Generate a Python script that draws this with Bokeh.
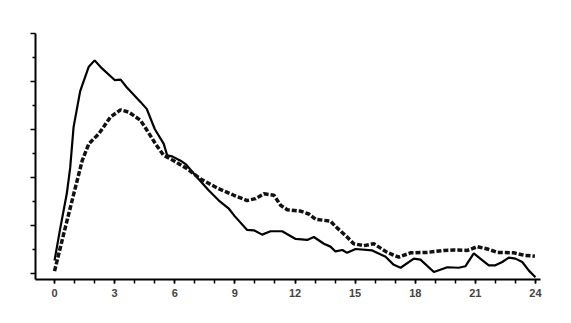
from bokeh.plotting import figure
from bokeh.models import Range1d, FixedTicker
from bokeh.embed import file_html
from bokeh.resources import INLINE

# data (hours, values)
solid_x = [0, 0.28, 0.61, 0.78, 0.95, 1.28, 1.7, 2.0, 2.3, 3.0, 3.3, 3.6, 4.3, 4.6, 5.0, 5.45, 5.62, 5.87,
           6.29, 6.54, 7.12, 7.7, 8.2, 8.7, 9.0, 9.6, 9.95, 10.36, 10.78, 11.36, 12.03, 12.61, 12.94,
           13.44, 13.77, 14.02, 14.36, 14.6, 15.02, 15.85, 16.52, 16.93, 17.27, 17.93, 18.26, 18.93,
           19.6, 20.17, 20.5, 20.92, 21.34, 21.67, 22.0, 22.34, 22.67, 23.0, 23.34, 23.67, 24.0]
solid_y = [0.27, 0.93, 1.66, 2.2, 3.05, 3.8, 4.3, 4.44, 4.3, 4.03, 4.04, 3.88, 3.57, 3.43, 3.01, 2.70, 2.46, 2.44,
           2.35, 2.28, 2.0, 1.73, 1.52, 1.35, 1.19, 0.91, 0.90, 0.81, 0.88, 0.88, 0.72, 0.70, 0.76,
           0.62, 0.56, 0.46, 0.49, 0.43, 0.51, 0.48, 0.35, 0.18, 0.12, 0.31, 0.29, 0.03,
           0.13, 0.12, 0.15, 0.42, 0.28, 0.17, 0.17, 0.24, 0.33, 0.31, 0.24, 0.06, -0.08]

dash_x = [0, 0.46, 0.96, 1.38, 1.71, 2.21, 2.79, 3.29, 3.71, 4.29, 4.62, 5.04, 5.45, 5.95, 6.62, 7.29,
          8.12, 8.95, 9.61, 10.03, 10.45, 10.95, 11.28, 11.61, 12.28, 12.69, 13.03, 13.77, 14.02, 14.6,
          14.93, 15.43, 15.93, 16.6, 17.18, 17.76, 18.6, 19.43, 19.93, 20.6, 21.1, 21.6, 22.1, 22.93,
          23.43, 23.97]
dash_y = [0.05, 0.83, 1.66, 2.35, 2.70, 2.91, 3.26, 3.41, 3.36, 3.19, 2.98, 2.70, 2.46, 2.35, 2.18, 1.97,
          1.78, 1.63, 1.52, 1.56, 1.66, 1.63, 1.42, 1.33, 1.30, 1.24, 1.13, 1.09, 0.98, 0.76,
          0.62, 0.58, 0.62, 0.44, 0.34, 0.43, 0.44, 0.48, 0.49, 0.48, 0.56, 0.51, 0.44, 0.43,
          0.38, 0.36]

x_ticks = list(range(0, 25, 3))
x_minor = list(range(0, 25))
y_ticks = [0, 1, 2, 3, 4, 5]
y_minor = [0.5, 1.5, 2.5, 3.5, 4.5]

p = figure(width=565, height=315, output_backend="svg", toolbar_location=None,
           x_range=Range1d(-0.95, 24.25), y_range=Range1d(-0.125, 5.0),
           min_border_left=35, min_border_right=25, min_border_top=33, min_border_bottom=36)
p.outline_line_color = None
p.grid.visible = False
p.background_fill_color = "white"

p.line(solid_x, solid_y, line_color="black", line_width=2.2)
p.line(dash_x, dash_y, line_color="#111111", line_width=3.5, line_dash="5 2")

xa = p.xaxis[0]
xa.ticker = FixedTicker(ticks=x_ticks, minor_ticks=x_minor)
xa.axis_line_width = 2
xa.major_tick_line_width = 1.5
xa.minor_tick_line_width = 1.5
xa.major_tick_out = 4
xa.major_tick_in = 0
xa.minor_tick_out = 4
xa.minor_tick_in = 0
xa.major_label_text_font = "Liberation Sans"
xa.major_label_text_font_style = "bold"
xa.major_label_text_font_size = "11px"
xa.major_label_standoff = 5

ya = p.yaxis[0]
ya.ticker = FixedTicker(ticks=y_ticks, minor_ticks=y_minor)
ya.axis_line_width = 2
ya.major_tick_line_width = 1.5
ya.minor_tick_line_width = 1.5
ya.major_tick_out = 5
ya.major_tick_in = 0
ya.minor_tick_out = 3
ya.minor_tick_in = 0
ya.major_label_overrides = {t: "" for t in y_ticks}
ya.major_label_standoff = 0

open("out.html", "w").write(file_html(p, INLINE))
